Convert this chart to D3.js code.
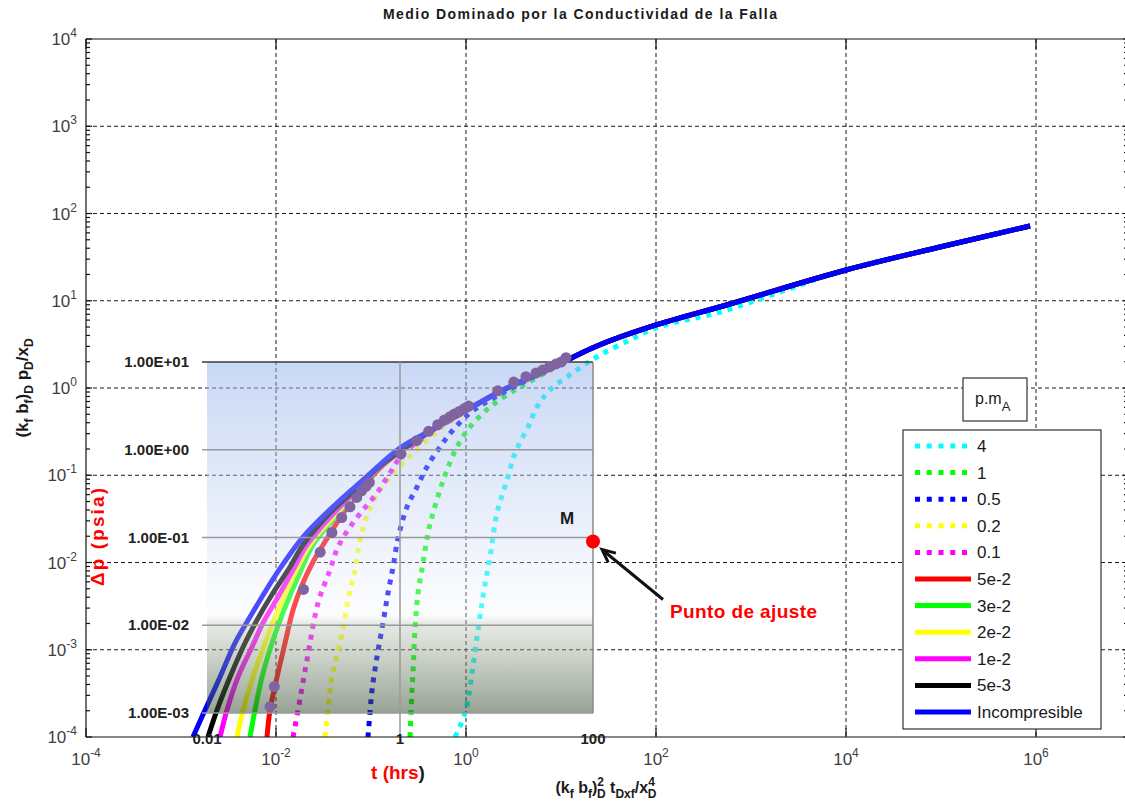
<!DOCTYPE html>
<html>
<head>
<meta charset="utf-8">
<script src="https://cdn.jsdelivr.net/npm/d3@7"></script>
<style>
  html, body { margin: 0; padding: 0; background: #fff; }
  svg { display: block; }
  text { font-family: "Liberation Sans", Arial, Helvetica, sans-serif; }
</style>
</head>
<body>
<svg id="chart" width="1125" height="810"></svg>
<script>
// ---------------------------------------------------------------------------
// Type curves: dimensionless time (kf bf)D^2 tDxf / xD^4 vs (kf bf)D pD / xD
// ---------------------------------------------------------------------------

// Incompressible fault fluid
const tD_inc = [1.336e-3, 1.79e-3, 2.576e-3, 3.698e-3, 5.32e-3, 1.026e-2, 1.923e-2, 4.385e-2, 8.24e-2, 0.2018, 0.495, 1.156, 2.45, 7.13, 23.9, 92.9, 601, 1e4, 9.75e4, 8.65e5];
const pD_inc = [1e-4, 2.037e-4, 4.875e-4, 1.194e-3, 2.37e-3, 7.59e-3, 1.959e-2, 4.81e-2, 8.83e-2, 0.205, 0.357, 0.605, 0.948, 1.607, 3.03, 5.14, 9.18, 22.5, 41.3, 71.9];

// p.mA = 5e-3
const tD_5e3 = [1.923e-3, 2.393e-3, 3.281e-3, 4.72e-3, 6.31e-3, 9.29e-3, 1.403e-2, 1.923e-2, 3.524e-2, 6.79e-2, 0.1274];
const pD_5e3 = [1e-4, 2.037e-4, 4.875e-4, 1.194e-3, 2.193e-3, 4.467e-3, 8.87e-3, 1.589e-2, 3.50e-2, 6.78e-2, 0.131];
// p.mA = 1e-2
const tD_1e2 = [2.576e-3, 3.048e-3, 3.981e-3, 5.585e-3, 7.30e-3, 1.050e-2, 1.510e-2, 2.118e-2, 3.882e-2, 7.13e-2, 0.1274];
const pD_1e2 = [1e-4, 2.037e-4, 4.875e-4, 1.076e-3, 2.03e-3, 4.03e-3, 8.20e-3, 1.589e-2, 3.50e-2, 6.78e-2, 0.131];
// p.mA = 2e-2
const tD_2e2 = [3.882e-3, 4.50e-3, 5.728e-3, 7.66e-3, 1.050e-2, 1.510e-2, 2.28e-2, 4.18e-2, 7.30e-2, 0.1274];
const pD_2e2 = [1e-4, 2.037e-4, 4.875e-4, 1.194e-3, 2.858e-3, 6.82e-3, 1.589e-2, 3.50e-2, 6.78e-2, 0.131];
// p.mA = 3e-2
const tD_3e2 = [5.32e-3, 6.01e-3, 7.13e-3, 9.08e-3, 1.213e-2, 1.706e-2, 2.449e-2, 4.385e-2, 7.48e-2, 0.1274];
const pD_3e2 = [1e-4, 2.037e-4, 4.875e-4, 1.194e-3, 2.858e-3, 6.82e-3, 1.589e-2, 3.50e-2, 6.78e-2, 0.131];
// p.mA = 5e-2
const tD_5e2 = [8.04e-3, 8.65e-3, 1.026e-2, 1.245e-2, 1.510e-2, 1.879e-2, 2.449e-2, 3.126e-2, 4.955e-2, 7.85e-2, 0.1337];
const pD_5e2 = [1e-4, 2.037e-4, 4.875e-4, 1.194e-3, 2.858e-3, 5.52e-3, 1.014e-2, 1.589e-2, 3.50e-2, 6.78e-2, 0.131];
// p.mA = 0.1
const tD_01 = [1.510e-2, 1.706e-2, 2.118e-2, 2.77e-2, 3.698e-2, 4.50e-2, 6.01e-2, 8.24e-2, 0.1156, 0.1585, 0.2224];
const pD_01 = [1e-4, 2.037e-4, 7.64e-4, 3.436e-3, 8.20e-3, 1.507e-2, 2.553e-2, 4.0e-2, 6.26e-2, 0.1062, 0.180];
// p.mA = 0.2
const tD_02 = [3.281e-2, 3.524e-2, 3.882e-2, 4.72e-2, 5.728e-2, 6.79e-2, 7.66e-2, 9.29e-2, 0.1186, 0.1585, 0.2173, 0.3048, 0.5728];
const pD_02 = [1e-4, 2.037e-4, 4.875e-4, 1.194e-3, 3.715e-3, 8.20e-3, 1.811e-2, 3.69e-2, 6.26e-2, 9.55e-2, 0.138, 0.1946, 0.357];
// p.mA = 0.5
const tD_05 = [9.29e-2, 9.75e-2, 0.1026, 0.1156, 0.1337, 0.151, 0.1706, 0.1879, 0.2018, 0.2393, 0.3048, 0.3882, 0.532, 0.730, 1.102, 1.79];
const pD_05 = [1e-4, 1.884e-4, 3.46e-4, 8.26e-4, 2.03e-3, 4.467e-3, 8.87e-3, 1.671e-2, 2.355e-2, 4.33e-2, 7.33e-2, 0.1244, 0.211, 0.330, 0.517, 0.729];
// p.mA = 1
const tD_1 = [0.2576, 0.2636, 0.2704, 0.2767, 0.2904, 0.3126, 0.3524, 0.3981, 0.450, 0.532, 0.631, 0.804, 1.102, 1.79, 2.904, 4.385];
const pD_1 = [1e-4, 1.884e-4, 3.46e-4, 5.42e-4, 1.683e-3, 4.467e-3, 9.86e-3, 2.18e-2, 3.69e-2, 6.78e-2, 0.1148, 0.211, 0.357, 0.605, 0.876, 1.141];
// p.mA = 4
const tD_4 = [0.766, 0.976, 1.156, 1.371, 1.547, 1.79, 2.12, 2.704, 3.281, 4.50, 5.585, 7.66, 14.73, 25.76, 53.2, 86.5, 151, 472];
const pD_4 = [1e-4, 1.884e-4, 5.42e-4, 2.03e-3, 4.84e-3, 1.156e-2, 3.69e-2, 8.83e-2, 0.180, 0.357, 0.605, 0.948, 1.607, 2.388, 3.548, 4.62, 5.56, 7.43];

// Field test: elapsed time (hrs) and pressure change (psia)
const fieldT  = [0.045, 0.0498, 0.100, 0.149, 0.197, 0.249, 0.303, 0.356, 0.400, 0.444, 0.481, 1.02, 1.49, 1.98, 2.46, 2.88, 3.30, 3.66, 4.12, 4.64, 5.15, 10.3, 15.1, 20.2, 25.7, 30.1, 35.3, 41.4, 46.7, 52.5];
const fieldDp = [0.00118, 0.0020, 0.0256, 0.068, 0.114, 0.169, 0.224, 0.286, 0.341, 0.382, 0.424, 0.89, 1.27, 1.62, 1.93, 2.18, 2.38, 2.55, 2.73, 2.95, 3.15, 4.7, 5.9, 6.8, 7.5, 8.1, 8.8, 9.5, 10.0, 11.2];

// Match point M (field units)
const matchT = 100, matchDp = 0.09;

// Axis ticks
const xTickExps = [-4, -2, 0, 2, 4, 6];
const yTickExps = [-4, -3, -2, -1, 0, 1, 2, 3, 4];
const insetYTicks  = [10, 1, 0.1, 0.01, 0.001];
const insetYLabels = ["1.00E+01", "1.00E+00", "1.00E-01", "1.00E-02", "1.00E-03"];
const insetXTicks  = [0.01, 1, 100];
const insetXLabels = ["0.01", "1", "100"];

// Legend labels / colours / styles (legend order)
const seriesLabels = ["4", "1", "0.5", "0.2", "0.1", "5e-2", "3e-2", "2e-2", "1e-2", "5e-3", "Incompresible"];
const seriesColors = ["#00ffff", "#00ff00", "#0000ff", "#ffff00", "#ff00ff", "#ff0000", "#00ff00", "#ffff00", "#ff00ff", "#000000", "#0000ff"];
const seriesDotted = [true, true, true, true, true, false, false, false, false, false, false];
const seriesT = [tD_4, tD_1, tD_05, tD_02, tD_01, tD_5e2, tD_3e2, tD_2e2, tD_1e2, tD_5e3, tD_inc];
const seriesP = [pD_4, pD_1, pD_05, pD_02, pD_01, pD_5e2, pD_3e2, pD_2e2, pD_1e2, pD_5e3, pD_inc];

// ---------------------------------------------------------------------------
const svg = d3.select("#chart");

const x  = d3.scaleLog().domain([1e-4, 1e7]).range([86, 1131]);
const y  = d3.scaleLog().domain([1e-4, 1e4]).range([737, 39]);
const ix = d3.scaleLog().domain([0.01, 100]).range([207, 593]);
const iy = d3.scaleLog().domain([1e-3, 10]).range([713, 362]);

const X0 = x.range()[0], X1 = x.range()[1];
const Y0 = y.range()[0], Y1 = y.range()[1];

// Rich text helper: [string, kind ('sub'|'sup'|undefined), dx]
function rich(sel, parts, small, subDy, supDy) {
  let cur = 0;
  parts.forEach(([str, kind, dx]) => {
    const target = kind === "sub" ? subDy : kind === "sup" ? -supDy : 0;
    const ts = sel.append("tspan").text(str).attr("dy", target - cur);
    if (kind) ts.attr("font-size", small);
    if (dx) ts.attr("dx", dx);
    cur = target;
  });
}

const defs = svg.append("defs");
defs.append("clipPath").attr("id", "plotClip").append("rect")
  .attr("x", X0).attr("y", Y1).attr("width", X1 - X0).attr("height", Y0 - Y1);
const grad = defs.append("linearGradient").attr("id", "insetFill")
  .attr("x1", 0).attr("y1", 0).attr("x2", 0).attr("y2", 1);
[[0, "#93b0ec", 0.5], [0.45, "#c8d6f4", 0.4], [0.72, "#f4f6fa", 0.3],
 [0.745, "#c4ccbf", 0.42], [1, "#2c4628", 0.5]]
  .forEach(([o, c, a]) => grad.append("stop").attr("offset", o)
    .attr("stop-color", c).attr("stop-opacity", a));

// ---- dashed grid ----
const gridG = svg.append("g").attr("stroke", "#1a1a1a").attr("stroke-width", 1)
  .attr("stroke-dasharray", "4,3");
xTickExps.filter(e => e > -4).forEach(e => {
  const px = x(Math.pow(10, e));
  gridG.append("line").attr("x1", px).attr("x2", px).attr("y1", Y1).attr("y2", Y0);
});
yTickExps.filter(e => e > -4 && e < 4).forEach(e => {
  const py = y(Math.pow(10, e));
  gridG.append("line").attr("x1", X0).attr("x2", X1).attr("y1", py).attr("y2", py);
});

// ---- type curves ----
// Each finite-compressibility curve joins the incompressible solution at late time.
function buildPoints(t, p, isInc) {
  const pts = t.map((v, i) => [v, p[i]]);
  if (isInc) return pts;
  const last = t[t.length - 1];
  tD_inc.forEach((v, i) => { if (v > last * 2.5) pts.push([v, pD_inc[i]]); });
  return pts;
}
const lineGen = d3.line().x(d => x(d[0])).y(d => y(d[1]))
  .curve(d3.curveCatmullRom.alpha(0.5));

const curveG = svg.append("g").attr("clip-path", "url(#plotClip)");
seriesLabels.forEach((lab, i) => {
  curveG.append("path")
    .attr("d", lineGen(buildPoints(seriesT[i], seriesP[i], i === seriesLabels.length - 1)))
    .attr("fill", "none")
    .attr("stroke", seriesColors[i])
    .attr("stroke-width", 5)
    .attr("stroke-dasharray", seriesDotted[i] ? "5,6" : null);
});

// ---- field-data panel (t in hrs, Δp in psia) ----
const insetG = svg.append("g");
insetG.append("rect")
  .attr("x", ix(0.01)).attr("y", iy(10))
  .attr("width", ix(100) - ix(0.01)).attr("height", iy(1e-3) - iy(10))
  .attr("fill", "url(#insetFill)");

insetYTicks.forEach((v, i) => {
  insetG.append("line")
    .attr("x1", ix(0.01) - 5).attr("x2", ix(100))
    .attr("y1", iy(v)).attr("y2", iy(v))
    .attr("stroke", i === 0 ? "#3a3a3a" : "#9a9a9a").attr("stroke-width", 1.5);
  insetG.append("text")
    .attr("x", 189).attr("y", iy(v) + 5).attr("text-anchor", "end")
    .attr("font-size", 15).attr("font-weight", "bold").attr("fill", "#222")
    .text(insetYLabels[i]);
});
insetG.append("line").attr("x1", ix(1)).attr("x2", ix(1)).attr("y1", iy(10)).attr("y2", Y0)
  .attr("stroke", "#9a9a9a").attr("stroke-width", 1.5);
insetG.append("line").attr("x1", ix(100)).attr("x2", ix(100)).attr("y1", iy(10)).attr("y2", iy(1e-3))
  .attr("stroke", "#8a8a8a").attr("stroke-width", 1.5);

insetG.selectAll("circle.field").data(fieldT).enter().append("circle")
  .attr("class", "field")
  .attr("cx", d => ix(d)).attr("cy", (d, i) => iy(fieldDp[i]))
  .attr("r", 5.5).attr("fill", "#8064a2");

// ---- main axes ----
const axG = svg.append("g").attr("stroke", "#111").attr("stroke-width", 1.2);
axG.append("line").attr("x1", X0).attr("x2", X0).attr("y1", Y1).attr("y2", Y0);
axG.append("line").attr("x1", X0).attr("x2", X1).attr("y1", Y0).attr("y2", Y0);
axG.append("line").attr("x1", X0).attr("x2", X1).attr("y1", Y1).attr("y2", Y1);
axG.append("line").attr("x1", X1 - 0.5).attr("x2", X1 - 0.5).attr("y1", Y1).attr("y2", Y0);

yTickExps.forEach(e => {
  const py = y(Math.pow(10, e));
  axG.append("line").attr("x1", X0).attr("x2", X0 + 6).attr("y1", py).attr("y2", py);
  axG.append("line").attr("x1", X1 - 8).attr("x2", X1).attr("y1", py).attr("y2", py);
  if (e < 4) {
    for (let k = 2; k <= 9; k++) {
      const pm = y(k * Math.pow(10, e));
      axG.append("line").attr("x1", X0).attr("x2", X0 + 4).attr("y1", pm).attr("y2", pm);
      axG.append("line").attr("x1", X1 - 7).attr("x2", X1).attr("y1", pm).attr("y2", pm);
    }
  }
});
xTickExps.forEach(e => {
  const px = x(Math.pow(10, e));
  axG.append("line").attr("x1", px).attr("x2", px).attr("y1", Y0).attr("y2", Y0 - 9);
  axG.append("line").attr("x1", px).attr("x2", px).attr("y1", Y1).attr("y2", Y1 + 10);
});

// tick labels
yTickExps.forEach(e => {
  const t = svg.append("text").attr("x", 77).attr("y", y(Math.pow(10, e)) + 6)
    .attr("text-anchor", "end").attr("font-size", 17).attr("fill", "#404040");
  rich(t, [["10"], [String(e), "sup"]], 12, 4, 8);
});
xTickExps.forEach(e => {
  const t = svg.append("text").attr("x", x(Math.pow(10, e))).attr("y", 765)
    .attr("text-anchor", "middle").attr("font-size", 17).attr("fill", "#404040");
  rich(t, [["10"], [String(e), "sup"]], 12, 4, 8);
});

// panel x labels (drawn over the main axis)
insetXTicks.forEach((v, i) => {
  svg.append("text").attr("x", ix(v)).attr("y", 744).attr("text-anchor", "middle")
    .attr("font-size", 15).attr("font-weight", "bold").attr("fill", "#222")
    .text(insetXLabels[i]);
});

// ---- titles ----
svg.append("text").attr("x", 580).attr("y", 19).attr("text-anchor", "middle")
  .attr("font-size", 14).attr("font-weight", "bold").attr("fill", "#1a1a1a")
  .attr("textLength", 394).attr("lengthAdjust", "spacing")
  .text("Medio Dominado por la Conductividad de la Falla");

const xl = svg.append("text").attr("x", 606).attr("y", 793).attr("text-anchor", "middle")
  .attr("font-size", 16).attr("font-weight", "bold").attr("fill", "#1a1a1a");
rich(xl, [["(k"], ["f", "sub"], [" b"], ["f", "sub"], [")"], ["2", "sup"], ["D", "sub", -7],
          [" t"], ["Dxf", "sub"], ["/x"], ["4", "sup"], ["D", "sub", -7]], 12, 5, 7);

const yl = svg.append("text").attr("transform", "translate(28,388) rotate(-90)")
  .attr("text-anchor", "middle").attr("font-size", 17).attr("font-weight", "bold").attr("fill", "#1a1a1a");
rich(yl, [["(k"], ["f", "sub"], [" b"], ["f", "sub"], [")"], ["D", "sub"], [" p"], ["D", "sub"],
          ["/x"], ["D", "sub"]], 12, 5, 7);

svg.append("text").attr("transform", "translate(104,537) rotate(-90)")
  .attr("text-anchor", "middle").attr("font-size", 19).attr("font-weight", "bold")
  .attr("fill", "#ff0000").attr("textLength", 98).attr("lengthAdjust", "spacing")
  .text("\u0394p (psia)");

const th = svg.append("text").attr("x", 398).attr("y", 779).attr("text-anchor", "middle")
  .attr("font-size", 19).attr("font-weight", "bold").attr("fill", "#ff0000");
th.append("tspan").text("t (hrs");
th.append("tspan").attr("fill", "#1a1a1a").text(")");

// ---- match point annotation ----
const mx = ix(matchT), my = iy(matchDp);
svg.append("text").attr("x", mx - 26).attr("y", my - 18).attr("text-anchor", "middle")
  .attr("font-size", 17).attr("font-weight", "bold").attr("fill", "#1a1a1a").text("M");
const ax0 = mx + 70, ay0 = my + 58, ax1 = mx + 9, ay1 = my + 8;
svg.append("line").attr("x1", ax0).attr("y1", ay0).attr("x2", ax1 + 3).attr("y2", ay1 + 2.5)
  .attr("stroke", "#111").attr("stroke-width", 3);
{
  const dx = ax1 - ax0, dy = ay1 - ay0, L = Math.hypot(dx, dy);
  const ux = dx / L, uy = dy / L, px = -uy, py = ux;
  const b1 = [ax1 - 13 * ux + 6 * px, ay1 - 13 * uy + 6 * py];
  const b2 = [ax1 - 13 * ux - 6 * px, ay1 - 13 * uy - 6 * py];
  svg.append("path").attr("d", `M${b1[0]},${b1[1]}L${ax1},${ay1}L${b2[0]},${b2[1]}`)
    .attr("fill", "none").attr("stroke", "#111").attr("stroke-width", 3)
    .attr("stroke-linejoin", "miter");
}
svg.append("circle").attr("cx", mx).attr("cy", my).attr("r", 7).attr("fill", "#ff0000");
svg.append("text").attr("x", 670).attr("y", 618)
  .attr("font-size", 19).attr("font-weight", "bold").attr("fill", "#ff0000")
  .attr("textLength", 147).attr("lengthAdjust", "spacing")
  .text("Punto de ajuste");

// ---- legend ----
const lg = svg.append("g");
lg.append("rect").attr("x", 963).attr("y", 378).attr("width", 64).attr("height", 43)
  .attr("fill", "#fff").attr("stroke", "#333").attr("stroke-width", 1.2);
const lt = lg.append("text").attr("x", 975).attr("y", 404).attr("font-size", 16).attr("fill", "#1a1a1a");
rich(lt, [["p.m"], ["A", "sub"]], 13, 7, 0);

lg.append("rect").attr("x", 903).attr("y", 430).attr("width", 198).attr("height", 299)
  .attr("fill", "#fff").attr("stroke", "#333").attr("stroke-width", 1.2);
seriesLabels.forEach((lab, i) => {
  const yy = 446 + i * 26.6;
  lg.append("line")
    .attr("x1", 915).attr("x2", seriesDotted[i] ? 967 : 971)
    .attr("y1", yy).attr("y2", yy)
    .attr("stroke", seriesColors[i]).attr("stroke-width", 5)
    .attr("stroke-dasharray", seriesDotted[i] ? "5,6.75" : null);
  lg.append("text").attr("x", 977).attr("y", yy + 6).attr("font-size", 17)
    .attr("fill", "#1a1a1a").text(lab);
});
</script>
</body>
</html>
